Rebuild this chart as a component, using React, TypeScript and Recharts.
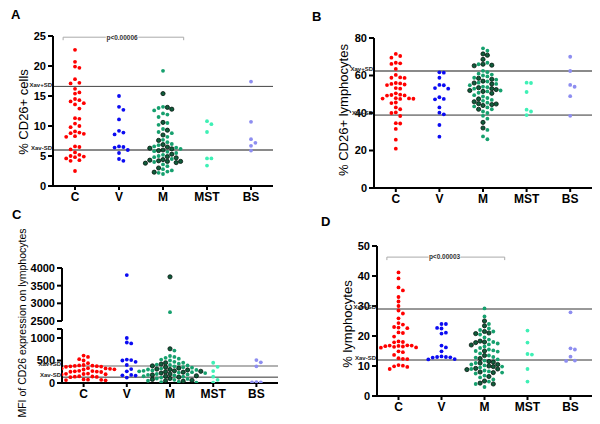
import { ScatterChart, Scatter, XAxis, YAxis, ReferenceLine, ReferenceDot } from 'recharts'

const GROUPS = ['C', 'V', 'M', 'MST', 'BS']

// A: % CD26+ cells
const A_C = [22.7, 20.7, 19.9, 19.7, 17.8, 17.2, 17.1, 16.2, 15.6, 15.4, 14.5, 14.3, 14.1, 13.8, 13.6, 12.9, 11.3, 11.2, 10.4, 10.0, 9.8, 9.1, 8.9, 8.8, 8.7, 8.3, 8.2, 6.6, 6.5, 6.1, 5.6, 5.2, 5.0, 4.9, 4.8, 4.6, 4.3, 4.2, 2.5]
const A_V = [15.0, 13.2, 12.7, 11.1, 9.2, 8.9, 8.6, 6.6, 6.5, 6.4, 6.0, 5.5, 4.5, 4.2]
const A_M_DARK = [15.4, 13.1, 12.8, 10.6, 9.3, 8.5, 7.6, 6.9, 6.5, 6.3, 6.2, 6.0, 5.9, 5.3, 4.9, 4.7, 4.4, 4.3, 4.2, 4.1, 4.1, 3.9, 3.8, 3.0, 2.3]
const A_M_LIGHT = [19.2, 13.2, 13.0, 12.6, 12.1, 11.9, 11.5, 10.5, 10.2, 9.5, 9.0, 8.8, 8.2, 7.7, 7.3, 7.0, 6.8, 6.6, 6.4, 6.2, 5.8, 5.7, 5.5, 5.2, 5.0, 4.8, 4.5, 4.0, 3.6, 3.3, 2.8, 2.6, 2.4, 2.2, 2.0]
const A_MST = [10.8, 10.3, 9.0, 4.6, 4.6, 3.4]
const A_BS = [17.4, 10.7, 7.8, 7.2, 6.7, 5.9]

// B: % CD26+ lymphocytes
const B_C = [71.5, 70.4, 69.5, 66.8, 66.5, 66.2, 63.5, 60.3, 59.0, 58.8, 58.7, 56.0, 55.8, 55.5, 55.2, 54.9, 53.3, 53.0, 50.5, 49.8, 49.6, 49.4, 49.3, 47.9, 47.8, 47.7, 47.6, 47.5, 45.6, 45.3, 43.0, 42.0, 40.3, 40.0, 38.4, 34.6, 34.4, 31.5, 25.8, 21.0]
const B_V = [61.7, 61.5, 58.8, 55.0, 54.8, 53.3, 53.0, 48.4, 47.5, 47.3, 43.0, 40.2, 39.3, 33.6, 27.4]
const B_M_DARK = [71.5, 70.8, 68.6, 66.0, 65.5, 65.2, 58.5, 58.0, 57.0, 56.0, 55.5, 53.5, 53.0, 52.5, 52.0, 51.5, 50.5, 47.5, 46.0, 45.0, 44.8, 44.5, 44.0, 42.0, 35.0, 32.0]
const B_M_LIGHT = [74.5, 73.2, 66.8, 66.0, 62.5, 61.8, 61.0, 60.5, 60.0, 59.5, 58.8, 57.8, 56.8, 56.2, 55.5, 54.8, 54.0, 53.8, 53.0, 52.0, 51.5, 50.8, 49.5, 48.8, 48.0, 47.0, 46.5, 45.5, 43.5, 43.0, 42.0, 40.8, 40.0, 38.5, 37.0, 31.0, 27.5, 26.0]
const B_MST = [56.2, 56.0, 51.2, 41.8, 40.8, 38.9]
const B_BS = [70.0, 62.4, 55.0, 54.0, 49.0, 38.5]

// C: MFI of CD26 (broken axis)
const C_C = [610, 580, 530, 500, 440, 400, 390, 385, 380, 375, 370, 365, 360, 330, 325, 320, 315, 310, 305, 300, 270, 265, 260, 255, 250, 245, 210, 205, 200, 195, 190, 150, 145, 140, 135, 130, 80, 75, 70, 65, 60]
const C_V = [3800, 1000, 900, 880, 520, 510, 500, 470, 400, 310, 260, 180, 170, 165, 120]
const C_M_DARK = [3750, 760, 450, 420, 380, 350, 330, 310, 300, 290, 270, 260, 250, 240, 220, 200, 180, 160, 150, 130, 100, 80, 60, 50, 40]
const C_M_LIGHT = [2750, 720, 600, 580, 560, 540, 520, 500, 470, 450, 430, 410, 400, 390, 370, 350, 340, 320, 300, 290, 280, 270, 260, 240, 230, 220, 200, 190, 180, 170, 150, 140, 120, 100, 90, 70, 50, 30, 20, 10]
const C_MST = [450, 360, 265, 140, 70, 10]
const C_BS = [510, 460, 370, 20, 15, 15]

// D: % lymphocytes
const D_C = [41.2, 39.2, 36.2, 35.2, 33.0, 31.5, 30.0, 28.5, 27.5, 25.9, 24.3, 23.8, 23.0, 22.8, 22.6, 21.2, 21.0, 19.8, 18.2, 18.0, 17.9, 16.9, 16.8, 16.8, 16.7, 16.6, 16.5, 16.4, 16.2, 16.1, 14.9, 14.6, 13.7, 12.6, 12.4, 12.3, 10.3, 10.1, 9.9, 9.7, 9.0]
const D_V = [24.0, 24.0, 22.7, 22.5, 21.1, 20.8, 16.8, 16.2, 14.9, 13.2, 13.0, 13.0, 12.9, 12.8, 12.3, 12.2]
const D_M_DARK = [25.0, 23.4, 21.5, 21.0, 20.8, 18.3, 18.0, 17.8, 17.0, 15.0, 13.5, 12.5, 11.5, 11.3, 11.0, 10.5, 10.0, 9.8, 9.2, 9.0, 8.8, 8.0, 7.8, 6.5, 5.0, 4.3, 4.0]
const D_M_LIGHT = [29.2, 26.5, 24.0, 22.5, 22.0, 21.5, 20.5, 19.5, 18.8, 18.0, 17.5, 17.2, 16.5, 16.0, 15.5, 15.2, 15.0, 14.8, 14.2, 13.5, 13.0, 12.8, 12.2, 11.8, 11.0, 10.5, 10.2, 9.8, 9.5, 9.0, 8.5, 8.2, 7.8, 7.5, 6.8, 6.2, 5.5, 4.8, 4.0, 3.0]
const D_MST = [21.8, 17.8, 14.0, 13.8, 9.0, 4.8]
const D_BS = [27.9, 15.9, 15.5, 13.1, 11.8, 11.7]

const FONT = '"Liberation Sans", Arial, Helvetica, sans-serif'
const GAP = 4.4
const Y_AXIS_W = 30
const X_AXIS_H = 20

const SERIES = [
  { tag: 'C', fill: '#ff0000' },
  { tag: 'V', fill: '#0b0bf2' },
  { tag: 'Ml', fill: '#16a06e' },
  { tag: 'Md', fill: '#0f5c3b', dark: true },
  { tag: 'MST', fill: '#3ef0b5' },
  { tag: 'BS', fill: '#8d8df0' },
]

interface Sets { C: number[]; V: number[]; Md: number[]; Ml: number[]; MST: number[]; BS: number[] }
interface Item { v: number; tag: string }

// column scatter, points pushed sideways until they stop overlapping (like Prism)
function swarm(items: Item[], cat: number, pxY: number, pxX: number) {
  const sorted = [...items].sort((a, b) => b.v - a.v)
  const placed: { ox: number; py: number }[] = []
  return sorted.map(it => {
    const py = it.v * pxY
    let ox = 0
    for (let n = 0; n < 80; n++) {
      ox = Math.ceil(n / 2) * (n % 2 ? 1 : -1) * GAP
      if (placed.every(p => Math.hypot(p.ox - ox, p.py - py) >= GAP - 0.1)) break
    }
    placed.push({ ox, py })
    return { x: cat + ox / pxX, y: it.v, tag: it.tag }
  })
}

function layout(s: Sets, pxY: number, pxX: number, keep: (v: number) => boolean) {
  const f = (a: number[], tag: string) => a.filter(keep).map(v => ({ v, tag }))
  return [
    ...swarm(f(s.C, 'C'), 1, pxY, pxX),
    ...swarm(f(s.V, 'V'), 2, pxY, pxX),
    ...swarm([...f(s.Md, 'Md'), ...f(s.Ml, 'Ml')], 3, pxY, pxX),
    ...swarm(f(s.MST, 'MST'), 4, pxY, pxX),
    ...swarm(f(s.BS, 'BS'), 5, pxY, pxX),
  ]
}

const dotShape = (fill: string, dark?: boolean) => (p: any) => (
  <circle
    cx={p.cx}
    cy={p.cy}
    r={dark ? 2.1 : 1.9}
    fill={fill}
    stroke={dark ? '#05140c' : 'none'}
    strokeWidth={dark ? 0.8 : 0}
  />
)

interface RefDef { y: number; stroke: string; sw: number; label: string }
interface Bracket { y: number; drop: number; text: string }

interface PanelProps {
  left: number
  top: number
  width: number
  height: number
  margin: { top: number; right: number; bottom: number; left: number }
  domain: [number, number]
  ticks: number[]
  tickFmt?: (v: number) => string
  hideX?: boolean
  sets: Sets
  keep?: (v: number) => boolean
  refs?: RefDef[]
  bracket?: Bracket
}

function Panel(p: PanelProps) {
  const plotH = p.height - p.margin.top - p.margin.bottom - (p.hideX ? 0 : X_AXIS_H)
  const plotW = p.width - p.margin.left - p.margin.right - Y_AXIS_W
  const pxY = plotH / (p.domain[1] - p.domain[0])
  const pxX = plotW / 5
  const pts = layout(p.sets, pxY, pxX, p.keep ?? (() => true))
  const b = p.bracket

  return (
    <div style={{ position: 'absolute', left: p.left, top: p.top }}>
      <ScatterChart width={p.width} height={p.height} margin={p.margin}>
        <XAxis
          type="number"
          dataKey="x"
          domain={[0.5, 5.5]}
          ticks={[1, 2, 3, 4, 5]}
          interval={0}
          tickFormatter={(v: number) => GROUPS[v - 1]}
          hide={p.hideX}
          height={X_AXIS_H}
          allowDataOverflow
          axisLine={{ stroke: '#000', strokeWidth: 2 }}
          tickLine={{ stroke: '#000', strokeWidth: 2 }}
          tickSize={4}
          tick={{ fill: '#000', fontSize: 12, fontWeight: 'bold', fontFamily: FONT }}
        />
        <YAxis
          type="number"
          dataKey="y"
          domain={p.domain}
          ticks={p.ticks}
          interval={0}
          width={Y_AXIS_W}
          allowDataOverflow
          tickFormatter={p.tickFmt}
          axisLine={{ stroke: '#000', strokeWidth: 2 }}
          tickLine={{ stroke: '#000', strokeWidth: 2 }}
          tickSize={5}
          tick={{ fill: '#000', fontSize: 11, fontWeight: 'bold', fontFamily: FONT }}
        />
        {(p.refs ?? []).map(r => (
          <ReferenceLine
            key={r.label}
            y={r.y}
            stroke={r.stroke}
            strokeWidth={r.sw}
            label={{ value: r.label, position: 'left', offset: 1, dy: -2, fontSize: 6, fontWeight: 'bold', fill: '#222', fontFamily: FONT }}
          />
        ))}
        {b && (
          <ReferenceLine segment={[{ x: 0.73, y: b.y }, { x: 1.7, y: b.y }]} stroke="#aaa" strokeWidth={1} ifOverflow="visible" />
        )}
        {b && (
          <ReferenceLine segment={[{ x: 2.44, y: b.y }, { x: 3.47, y: b.y }]} stroke="#aaa" strokeWidth={1} ifOverflow="visible" />
        )}
        {b && (
          <ReferenceLine segment={[{ x: 0.73, y: b.y }, { x: 0.73, y: b.y - b.drop }]} stroke="#aaa" strokeWidth={1} ifOverflow="visible" />
        )}
        {b && (
          <ReferenceLine segment={[{ x: 3.47, y: b.y }, { x: 3.47, y: b.y - b.drop }]} stroke="#aaa" strokeWidth={1} ifOverflow="visible" />
        )}
        {b && (
          <ReferenceDot
            x={2.07}
            y={b.y}
            r={0}
            fill="none"
            stroke="none"
            ifOverflow="visible"
            label={{ value: b.text, position: 'center', fontSize: 6.5, fontWeight: 'bold', fill: '#333', fontFamily: FONT }}
          />
        )}
        {SERIES.map(s => (
          <Scatter
            key={s.tag}
            data={pts.filter(q => q.tag === s.tag)}
            fill={s.fill}
            shape={dotShape(s.fill, s.dark)}
            isAnimationActive={false}
          />
        ))}
      </ScatterChart>
    </div>
  )
}

const txt = (s: React.CSSProperties): React.CSSProperties => ({
  position: 'absolute',
  fontFamily: FONT,
  color: '#000',
  whiteSpace: 'nowrap',
  lineHeight: 1,
  ...s,
})

const yLabel = (x: number, y: number, size: number): React.CSSProperties =>
  txt({ left: x, top: y, fontSize: size, transform: 'translate(-50%, -50%) rotate(-90deg)' })

export default function App() {
  return (
    <div style={{ position: 'absolute', left: 0, top: 0, width: 600, height: 424, background: '#fff', overflow: 'hidden' }}>
      <Panel
        left={0}
        top={0}
        width={290}
        height={210}
        margin={{ top: 36, right: 17, bottom: 4, left: 23 }}
        domain={[0, 25]}
        ticks={[0, 5, 10, 15, 20, 25]}
        sets={{ C: A_C, V: A_V, Md: A_M_DARK, Ml: A_M_LIGHT, MST: A_MST, BS: A_BS }}
        refs={[
          { y: 16.6, stroke: '#444', sw: 1, label: 'Xav+SD' },
          { y: 6.0, stroke: '#8a8a8a', sw: 2, label: 'Xav-SD' },
        ]}
        bracket={{ y: 24.8, drop: 0.5, text: 'p<0.00006' }}
      />
      <Panel
        left={300}
        top={0}
        width={300}
        height={210}
        margin={{ top: 38, right: 8, bottom: 2, left: 44 }}
        domain={[0, 80]}
        ticks={[0, 20, 40, 60, 80]}
        sets={{ C: B_C, V: B_V, Md: B_M_DARK, Ml: B_M_LIGHT, MST: B_MST, BS: B_BS }}
        refs={[
          { y: 62.4, stroke: '#8a8a8a', sw: 2, label: 'Xav+SD' },
          { y: 38.9, stroke: '#333', sw: 1, label: 'Xav-SD' },
        ]}
      />
      {/* C upper segment of the broken axis */}
      <Panel
        left={0}
        top={250}
        width={290}
        height={80}
        margin={{ top: 18, right: 12, bottom: 9, left: 32 }}
        domain={[2500, 4000]}
        ticks={[2500, 3000, 3500, 4000]}
        hideX
        keep={v => v >= 2400}
        sets={{ C: C_C, V: C_V, Md: C_M_DARK, Ml: C_M_LIGHT, MST: C_MST, BS: C_BS }}
      />
      <Panel
        left={0}
        top={300}
        width={290}
        height={110}
        margin={{ top: 29, right: 12, bottom: 7, left: 32 }}
        domain={[0, 1200]}
        ticks={[0, 500, 1000, 1200]}
        tickFmt={v => (v === 1200 ? '' : String(v))}
        keep={v => v <= 1200}
        sets={{ C: C_C, V: C_V, Md: C_M_DARK, Ml: C_M_LIGHT, MST: C_MST, BS: C_BS }}
        refs={[
          { y: 380, stroke: '#999', sw: 1.5, label: 'Xav+SD' },
          { y: 130, stroke: '#333', sw: 1, label: 'Xav-SD' },
        ]}
      />
      <Panel
        left={300}
        top={210}
        width={300}
        height={210}
        margin={{ top: 36, right: 8, bottom: 4, left: 47 }}
        domain={[0, 50]}
        ticks={[0, 10, 20, 30, 40, 50]}
        sets={{ C: D_C, V: D_V, Md: D_M_DARK, Ml: D_M_LIGHT, MST: D_MST, BS: D_BS }}
        refs={[
          { y: 29, stroke: '#333', sw: 1, label: 'Xav+SD' },
          { y: 12, stroke: '#333', sw: 1, label: 'Xav-SD' },
        ]}
        bracket={{ y: 46.3, drop: 1, text: 'p<0.00003' }}
      />

      <div style={txt({ left: 11, top: 8, fontSize: 13, fontWeight: 'bold' })}>A</div>
      <div style={txt({ left: 312, top: 10, fontSize: 13, fontWeight: 'bold' })}>B</div>
      <div style={txt({ left: 12, top: 208, fontSize: 13, fontWeight: 'bold' })}>C</div>
      <div style={txt({ left: 321, top: 215, fontSize: 13, fontWeight: 'bold' })}>D</div>

      <div style={yLabel(23, 112, 13)}>% CD26+ cells</div>
      <div style={yLabel(343, 110, 13)}>% CD26+ lymphocytes</div>
      <div style={yLabel(22, 323, 10.5)}>MFI of CD26 expression on lymphocytes</div>
      <div style={yLabel(347, 324, 13)}>% lymphocytes</div>
    </div>
  )
}
